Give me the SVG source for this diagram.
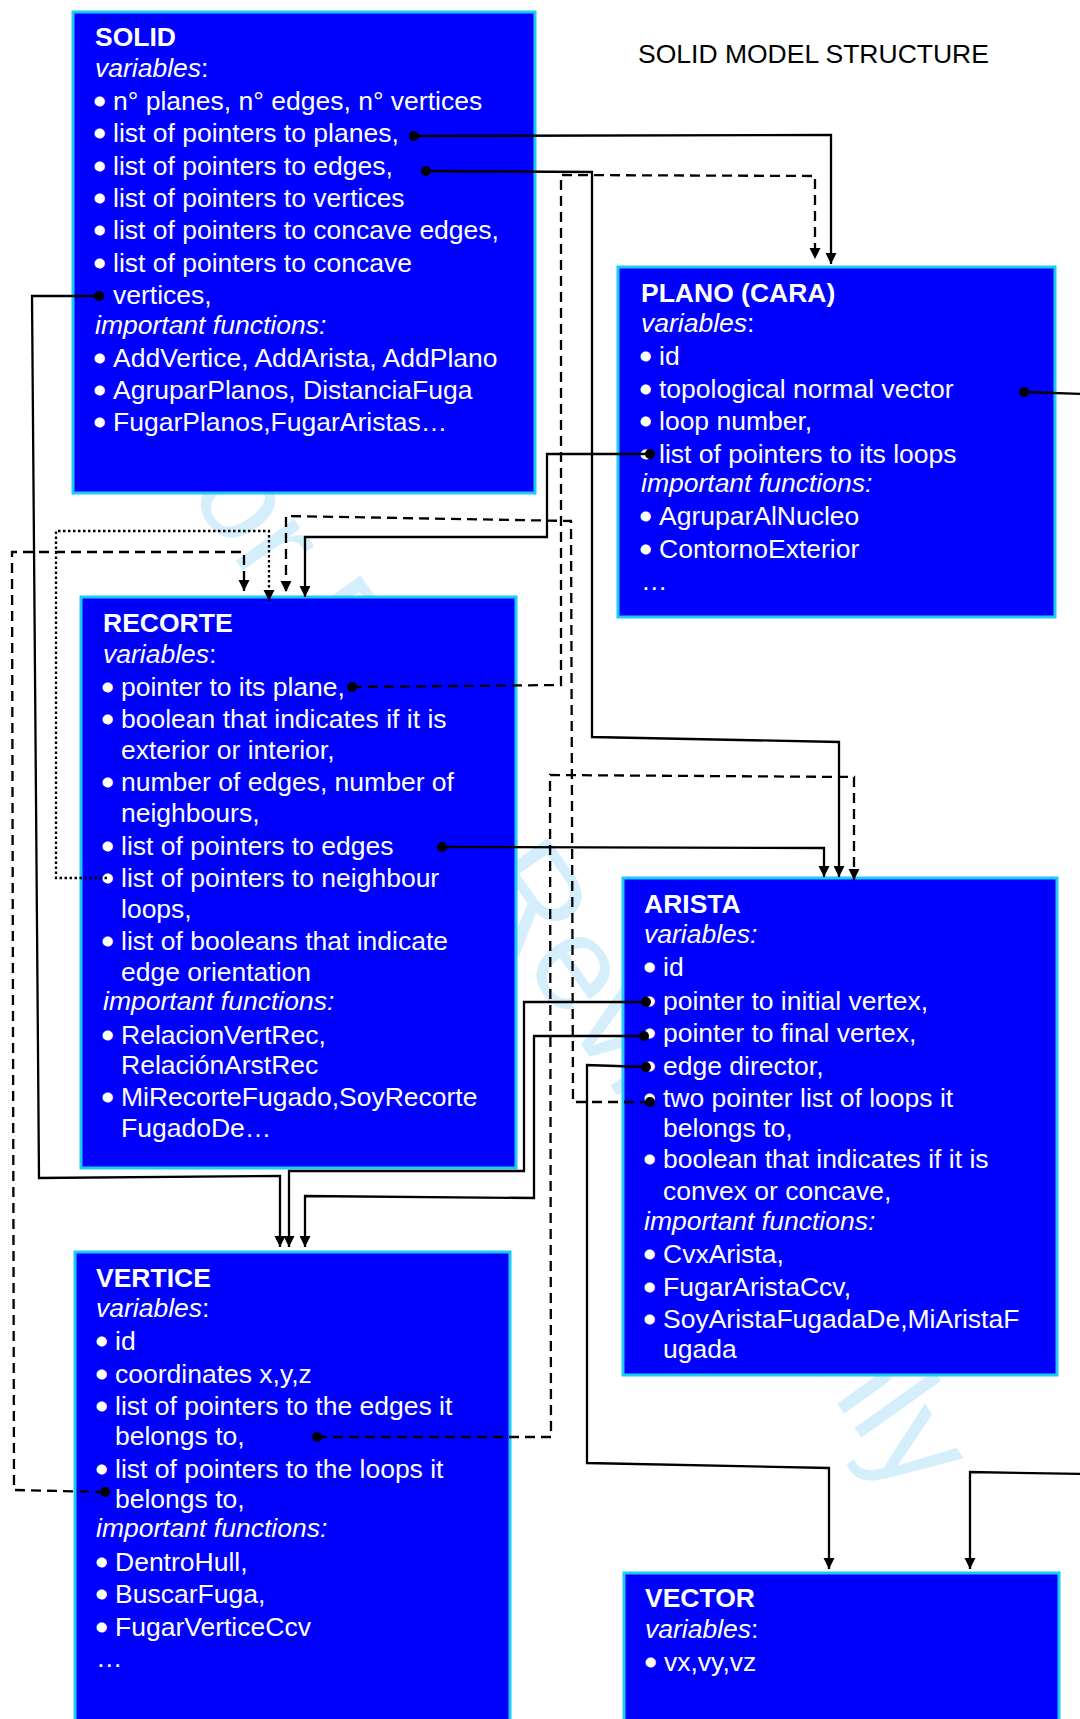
<svg xmlns="http://www.w3.org/2000/svg" width="1080" height="1719" viewBox="0 0 1080 1719">
<style>
.wm{font-family:"Liberation Sans",Arial,sans-serif;font-size:135px;fill:#d4eefb}
.box{fill:#0000ff;stroke:#1ccaf5;stroke-width:3}
.t{font-family:"Liberation Sans",Arial,sans-serif;font-size:26.5px;fill:#ffffff}
.bu{stroke:#ffffff;stroke-width:3;stroke-linejoin:round}
.b{font-weight:bold}
.i{font-style:italic}
.title{font-family:"Liberation Sans",Arial,sans-serif;font-size:26.5px;fill:#000000}
.ln{fill:none;stroke:#000;stroke-width:2.3;stroke-linejoin:miter}
.da{stroke-dasharray:10 6}
.do{stroke-dasharray:2.5 2.5}
.dot{fill:#000}
</style>
<defs>
<marker id="ah" markerUnits="userSpaceOnUse" markerWidth="12" markerHeight="12" refX="11" refY="5.5" orient="auto">
<path d="M0,0 L11,5.5 L0,11 z" fill="#000"/>
</marker>
</defs>
<rect width="1080" height="1719" fill="#ffffff"/>
<text class="wm" x="139" y="425" transform="rotate(54.5 139 425)">For Peer Review Only</text>
<text class="title" x="638" y="63">SOLID MODEL STRUCTURE</text>

<g id="solid">
<rect class="box" x="73" y="12" width="462" height="481"/>
<text class="t b" x="95" y="46">SOLID</text>
<text class="t" x="95" y="77"><tspan class="i">variables</tspan>:</text>
<text class="t" x="95" y="110"><tspan class="bu">•</tspan><tspan x="113">n° planes, n° edges, n° vertices</tspan></text>
<text class="t" x="95" y="142"><tspan class="bu">•</tspan><tspan x="113">list of pointers to planes,</tspan></text>
<text class="t" x="95" y="175"><tspan class="bu">•</tspan><tspan x="113">list of pointers to edges,</tspan></text>
<text class="t" x="95" y="207"><tspan class="bu">•</tspan><tspan x="113">list of pointers to vertices</tspan></text>
<text class="t" x="95" y="239"><tspan class="bu">•</tspan><tspan x="113">list of pointers to concave edges,</tspan></text>
<text class="t" x="95" y="272"><tspan class="bu">•</tspan><tspan x="113">list of pointers to concave</tspan></text>
<text class="t" x="113" y="304">vertices,</text>
<text class="t i" x="95" y="334">important functions:</text>
<text class="t" x="95" y="367"><tspan class="bu">•</tspan><tspan x="113">AddVertice, AddArista, AddPlano</tspan></text>
<text class="t" x="95" y="399"><tspan class="bu">•</tspan><tspan x="113">AgruparPlanos, DistanciaFuga</tspan></text>
<text class="t" x="95" y="431"><tspan class="bu">•</tspan><tspan x="113">FugarPlanos,FugarAristas…</tspan></text>
</g>

<g id="plano">
<rect class="box" x="618" y="267" width="437" height="350"/>
<text class="t b" x="641" y="302">PLANO (CARA)</text>
<text class="t" x="641" y="332"><tspan class="i">variables</tspan>:</text>
<text class="t" x="641" y="365"><tspan class="bu">•</tspan><tspan x="659">id</tspan></text>
<text class="t" x="641" y="398"><tspan class="bu">•</tspan><tspan x="659">topological normal vector</tspan></text>
<text class="t" x="641" y="430"><tspan class="bu">•</tspan><tspan x="659">loop number,</tspan></text>
<text class="t" x="641" y="463"><tspan class="bu">•</tspan><tspan x="659">list of pointers to its loops</tspan></text>
<text class="t i" x="641" y="492">important functions:</text>
<text class="t" x="641" y="525"><tspan class="bu">•</tspan><tspan x="659">AgruparAlNucleo</tspan></text>
<text class="t" x="641" y="558"><tspan class="bu">•</tspan><tspan x="659">ContornoExterior</tspan></text>
<text class="t" x="641" y="590">…</text>
</g>

<g id="recorte">
<rect class="box" x="81" y="597" width="435" height="571"/>
<text class="t b" x="103" y="632">RECORTE</text>
<text class="t" x="103" y="663"><tspan class="i">variables</tspan>:</text>
<text class="t" x="103" y="696"><tspan class="bu">•</tspan><tspan x="121">pointer to its plane,</tspan></text>
<text class="t" x="103" y="728"><tspan class="bu">•</tspan><tspan x="121">boolean that indicates if it is</tspan></text>
<text class="t" x="121" y="759">exterior or interior,</text>
<text class="t" x="103" y="791"><tspan class="bu">•</tspan><tspan x="121">number of edges, number of</tspan></text>
<text class="t" x="121" y="822">neighbours,</text>
<text class="t" x="103" y="855"><tspan class="bu">•</tspan><tspan x="121">list of pointers to edges</tspan></text>
<text class="t" x="103" y="887"><tspan class="bu">•</tspan><tspan x="121">list of pointers to neighbour</tspan></text>
<text class="t" x="121" y="918">loops,</text>
<text class="t" x="103" y="950"><tspan class="bu">•</tspan><tspan x="121">list of booleans that indicate</tspan></text>
<text class="t" x="121" y="981">edge orientation</text>
<text class="t i" x="103" y="1010">important functions:</text>
<text class="t" x="103" y="1044"><tspan class="bu">•</tspan><tspan x="121">RelacionVertRec,</tspan></text>
<text class="t" x="121" y="1074">RelaciónArstRec</text>
<text class="t" x="103" y="1106"><tspan class="bu">•</tspan><tspan x="121">MiRecorteFugado,SoyRecorte</tspan></text>
<text class="t" x="121" y="1137">FugadoDe…</text>
</g>

<g id="arista">
<rect class="box" x="623" y="878" width="434" height="497"/>
<text class="t b" x="644" y="913">ARISTA</text>
<text class="t i" x="644" y="943">variables:</text>
<text class="t" x="645" y="976"><tspan class="bu">•</tspan><tspan x="663">id</tspan></text>
<text class="t" x="645" y="1010"><tspan class="bu">•</tspan><tspan x="663">pointer to initial vertex,</tspan></text>
<text class="t" x="645" y="1042"><tspan class="bu">•</tspan><tspan x="663">pointer to final vertex,</tspan></text>
<text class="t" x="645" y="1075"><tspan class="bu">•</tspan><tspan x="663">edge director,</tspan></text>
<text class="t" x="645" y="1107"><tspan class="bu">•</tspan><tspan x="663">two pointer list of loops it</tspan></text>
<text class="t" x="663" y="1137">belongs to,</text>
<text class="t" x="645" y="1168"><tspan class="bu">•</tspan><tspan x="663">boolean that indicates if it is</tspan></text>
<text class="t" x="663" y="1200">convex or concave,</text>
<text class="t i" x="644" y="1230">important functions:</text>
<text class="t" x="645" y="1263"><tspan class="bu">•</tspan><tspan x="663">CvxArista,</tspan></text>
<text class="t" x="645" y="1296"><tspan class="bu">•</tspan><tspan x="663">FugarAristaCcv,</tspan></text>
<text class="t" x="645" y="1328"><tspan class="bu">•</tspan><tspan x="663">SoyAristaFugadaDe,MiAristaF</tspan></text>
<text class="t" x="663" y="1358">ugada</text>
</g>

<g id="vertice">
<rect class="box" x="75" y="1252" width="435" height="490"/>
<text class="t b" x="96" y="1287">VERTICE</text>
<text class="t" x="96" y="1317"><tspan class="i">variables</tspan>:</text>
<text class="t" x="97" y="1350"><tspan class="bu">•</tspan><tspan x="115">id</tspan></text>
<text class="t" x="97" y="1383"><tspan class="bu">•</tspan><tspan x="115">coordinates x,y,z</tspan></text>
<text class="t" x="97" y="1415"><tspan class="bu">•</tspan><tspan x="115">list of pointers to the edges it</tspan></text>
<text class="t" x="115" y="1445">belongs to,</text>
<text class="t" x="97" y="1478"><tspan class="bu">•</tspan><tspan x="115">list of pointers to the loops it</tspan></text>
<text class="t" x="115" y="1508">belongs to,</text>
<text class="t i" x="96" y="1537">important functions:</text>
<text class="t" x="97" y="1571"><tspan class="bu">•</tspan><tspan x="115">DentroHull,</tspan></text>
<text class="t" x="97" y="1603"><tspan class="bu">•</tspan><tspan x="115">BuscarFuga,</tspan></text>
<text class="t" x="97" y="1636"><tspan class="bu">•</tspan><tspan x="115">FugarVerticeCcv</tspan></text>
<text class="t" x="96" y="1667">…</text>
</g>

<g id="vector">
<rect class="box" x="624" y="1573" width="435" height="170"/>
<text class="t b" x="645" y="1607">VECTOR</text>
<text class="t" x="645" y="1638"><tspan class="i">variables</tspan>:</text>
<text class="t" x="646" y="1671"><tspan class="bu">•</tspan><tspan x="664">vx,vy,vz</tspan></text>
</g>

<g id="connectors">
<path class="ln" d="M414,136 L831,135 L831,264" marker-end="url(#ah)"/>
<path class="ln" d="M426,171 L592,172 L592,737 L839,742 L839,877" marker-end="url(#ah)"/>
<path class="ln da" d="M352,687 L561,685 L561,175 L815,176 L815,259" marker-end="url(#ah)"/>
<path class="ln" d="M99,296 L32,296 L39,1178 L280,1176 L280,1247" marker-end="url(#ah)"/>
<path class="ln" d="M650,454 L547,454 L547,537 L305,537 L305,597" marker-end="url(#ah)"/>
<path class="ln da" d="M650,1102 L573,1102 L571,521 L286,516 L286,592" marker-end="url(#ah)"/>
<path class="ln da" d="M317,1437 L551,1437 L550,775 L854,777 L854,880" marker-end="url(#ah)"/>
<path class="ln da" d="M105,1492 L14,1490 L12,552 L244,552 L244,591" marker-end="url(#ah)"/>
<path class="ln do" d="M107,878 L56,878 L56,531 L269,531 L269,601" marker-end="url(#ah)"/>
<path class="ln" d="M442,847 L824,848 L824,877" marker-end="url(#ah)"/>
<path class="ln" d="M646,1002 L524,1002 L524,1171 L289,1171 L289,1247" marker-end="url(#ah)"/>
<path class="ln" d="M644,1036 L534,1036 L534,1198 L305,1196 L305,1247" marker-end="url(#ah)"/>
<path class="ln" d="M646,1067 L587,1065 L587,1463 L829,1468 L829,1569" marker-end="url(#ah)"/>
<path class="ln" d="M1024,392 L1082,394 M1082,1474 L970,1472 L970,1569" marker-end="url(#ah)"/>
<circle class="dot" cx="414" cy="136" r="5"/>
<circle class="dot" cx="426" cy="171" r="5"/>
<circle class="dot" cx="99" cy="296" r="5"/>
<circle class="dot" cx="1024" cy="392" r="5"/>
<circle class="dot" cx="650" cy="454" r="5"/>
<circle class="dot" cx="352" cy="687" r="5"/>
<circle class="dot" cx="442" cy="847" r="5"/>
<circle class="dot" cx="646" cy="1002" r="5"/>
<circle class="dot" cx="644" cy="1036" r="5"/>
<circle class="dot" cx="646" cy="1067" r="5"/>
<circle class="dot" cx="650" cy="1102" r="5"/>
<circle class="dot" cx="317" cy="1437" r="5"/>
<circle class="dot" cx="105" cy="1492" r="5"/>
</g>
</svg>
